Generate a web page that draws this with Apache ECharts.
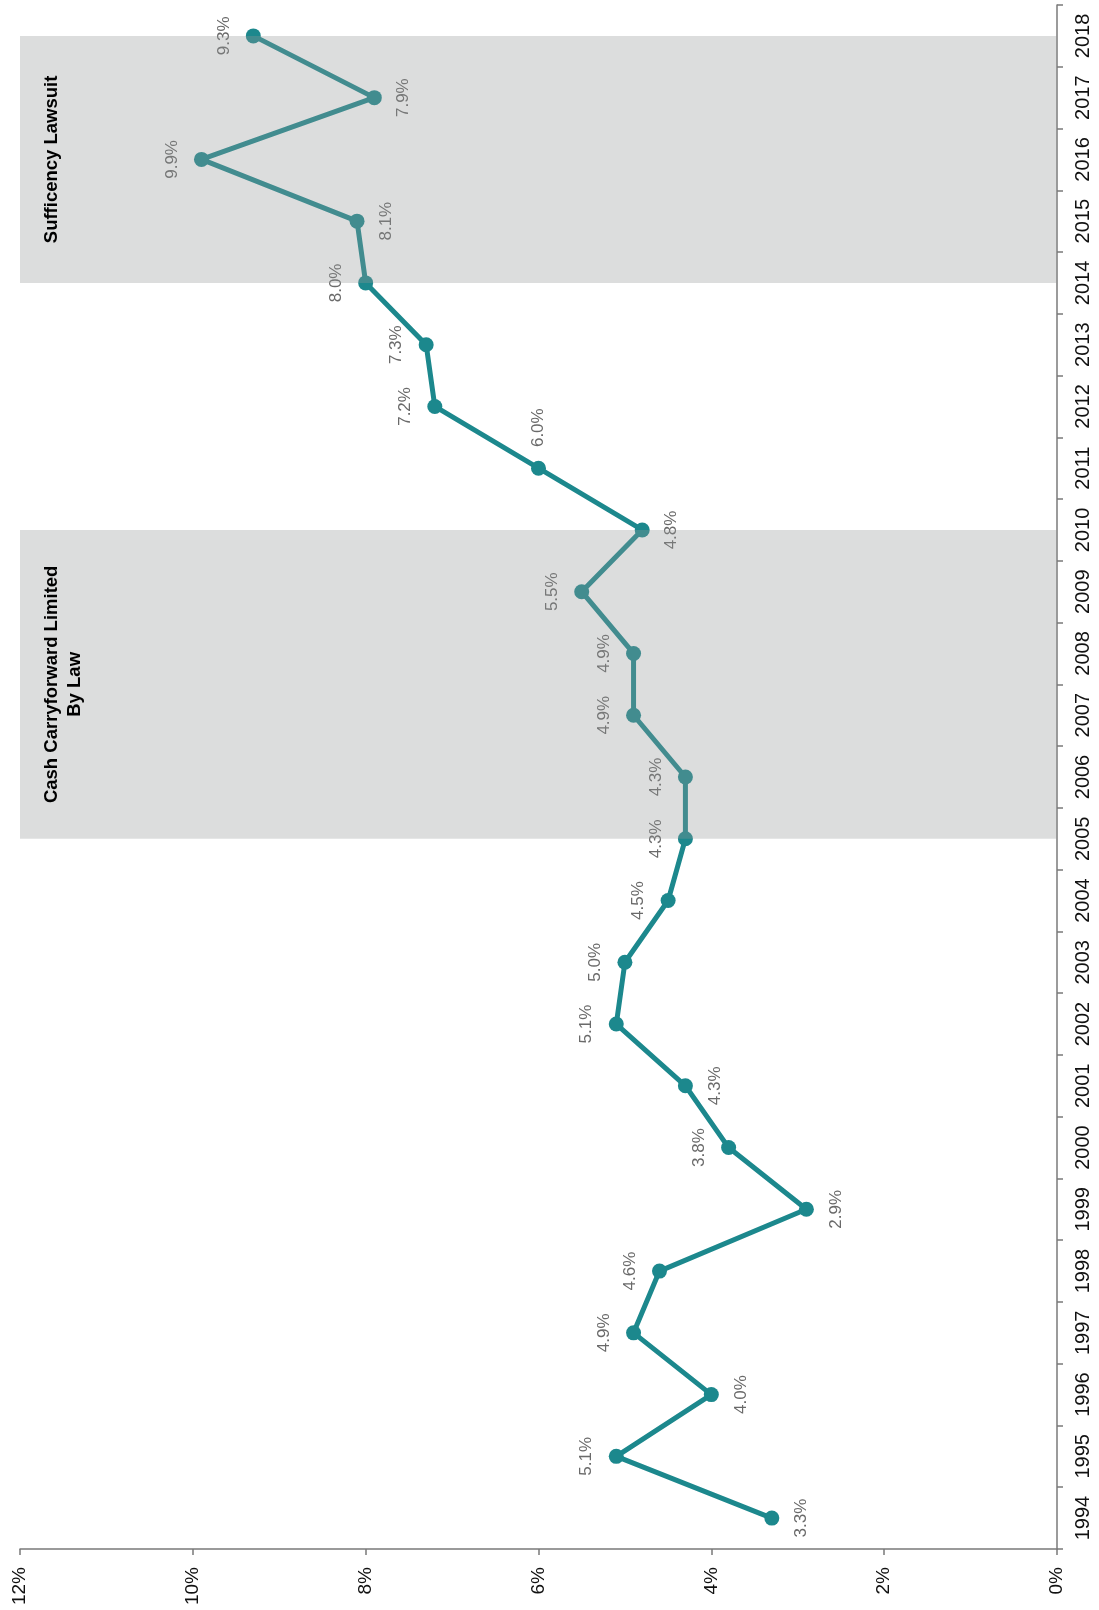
<!DOCTYPE html>
<html>
<head>
<meta charset="utf-8">
<script src="https://cdn.jsdelivr.net/npm/echarts@6/dist/echarts.min.js"></script>
<style>
  html, body { margin: 0; padding: 0; background: #ffffff; }
  #chart { width: 1099px; height: 1610px; }
</style>
</head>
<body>
<div id="chart"></div>
<script>
// Yearly rates, one per school year
const years = ['1994','1995','1996','1997','1998','1999','2000','2001','2002','2003','2004','2005',
               '2006','2007','2008','2009','2010','2011','2012','2013','2014','2015','2016','2017','2018'];
const rates = [3.3, 5.1, 4.0, 4.9, 4.6, 2.9, 3.8, 4.3, 5.1, 5.0, 4.5, 4.3,
               4.3, 4.9, 4.9, 5.5, 4.8, 6.0, 7.2, 7.3, 8.0, 8.1, 9.9, 7.9, 9.3];
// Years whose value label sits on the low-value side of the point
const lowSideLabels = ['1994','1996','1999','2001','2010','2015','2017'];
// Years whose value label sits past the point along the year axis
const afterLabels = ['2011'];
// Value axis range and step (percent)
const valueMin = 0;
const valueMax = 12;
const valueStep = 2;
// Shaded policy periods
const periodStarts = ['2005', '2014'];
const periodEnds = ['2010', '2018'];
const periodNames = ['Cash Carryforward Limited\nBy Law', 'Sufficency Lawsuit'];

const TEAL = '#1c888d';
const FONT = 'Liberation Sans, Arial, sans-serif';

function labelSide(y) {
  if (afterLabels.includes(y)) return { position: 'top', distance: 33 };
  return { position: lowSideLabels.includes(y) ? 'right' : 'left' };
}

const lineData = years.map((y, i) => ({
  value: [rates[i], y],
  label: labelSide(y)
}));

const shadeData = periodStarts.map((s, i) => [
  {
    yAxis: s,
    name: periodNames[i],
    label: {
      show: true,
      formatter: periodNames[i],
      position: 'insideLeft',
      distance: 20,
      rotate: 90,
      align: 'center',
      verticalAlign: 'top',
      color: '#000',
      fontFamily: FONT,
      fontWeight: 'bold',
      fontSize: 18.5,
      lineHeight: 23
    }
  },
  { yAxis: periodEnds[i] }
]);

const chart = echarts.init(document.getElementById('chart'), null, { renderer: 'canvas' });
chart.setOption({
  animation: false,
  backgroundColor: '#ffffff',
  grid: { left: 20, right: 42, top: 5, bottom: 61, containLabel: false },
  xAxis: {
    type: 'value',
    position: 'bottom',
    inverse: true,
    min: valueMin,
    max: valueMax,
    interval: valueStep,
    splitLine: { show: false },
    axisLine: { show: true, lineStyle: { color: '#7a7a7a', width: 1.5 } },
    axisTick: { show: true, length: 6, lineStyle: { color: '#7a7a7a', width: 1.5 } },
    axisLabel: {
      rotate: 90,
      margin: 18,
      fontSize: 19,
      color: '#111',
      fontFamily: FONT,
      formatter: '{value}%'
    }
  },
  yAxis: {
    type: 'category',
    position: 'right',
    data: years,
    boundaryGap: true,
    splitLine: { show: false },
    axisLine: { show: true, lineStyle: { color: '#7a7a7a', width: 1.5 } },
    axisTick: { show: true, length: 6, lineStyle: { color: '#7a7a7a', width: 1.5 } },
    axisLabel: {
      rotate: 90,
      margin: 16,
      fontSize: 20,
      color: '#111',
      fontFamily: FONT
    }
  },
  series: [
    {
      type: 'line',
      z: 2,
      data: lineData,
      symbol: 'circle',
      symbolSize: 15,
      itemStyle: { color: TEAL, borderWidth: 0 },
      lineStyle: { color: TEAL, width: 5 },
      label: {
        show: true,
        rotate: 90,
        align: 'center',
        verticalAlign: 'middle',
        distance: 22,
        fontSize: 17,
        color: '#6a6a6a',
        fontFamily: FONT,
        formatter: p => p.value[0].toFixed(1) + '%'
      }
    },
    {
      type: 'line',
      z: 10,
      data: [],
      markArea: {
        silent: true,
        z: 10,
        itemStyle: { color: 'rgba(145,148,148,0.32)' },
        data: shadeData
      }
    }
  ]
});
</script>
</body>
</html>
